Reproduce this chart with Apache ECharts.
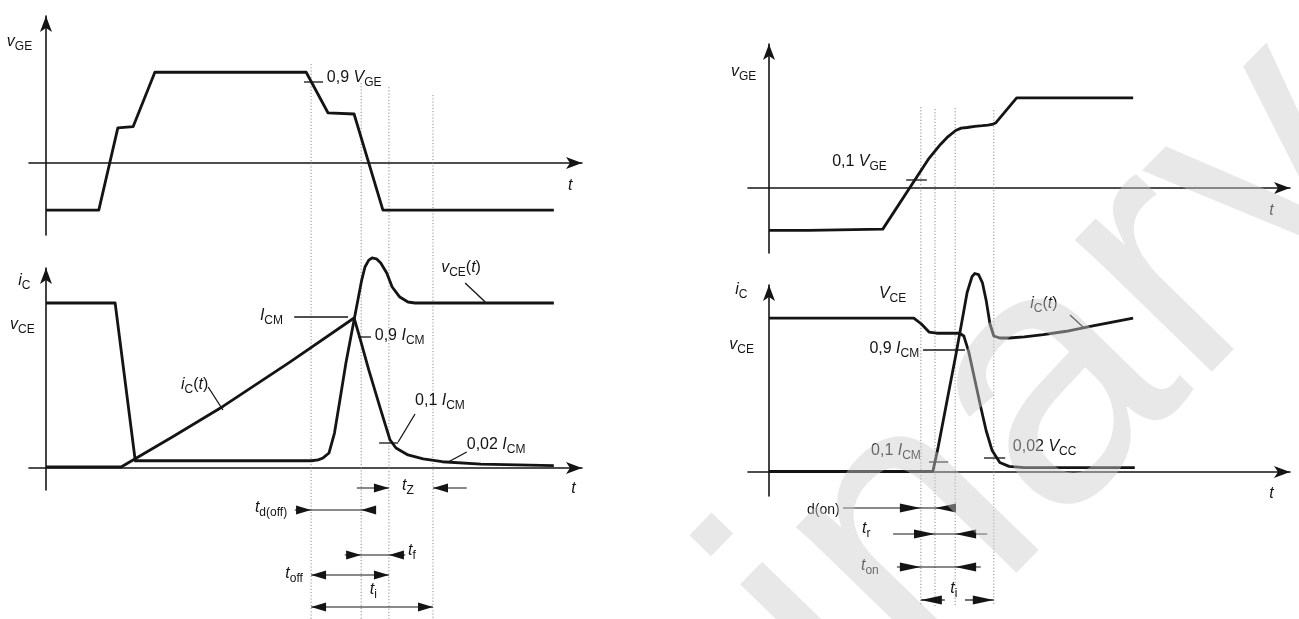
<!DOCTYPE html>
<html>
<head>
<meta charset="utf-8">
<title>IGBT switching times</title>
<style>
html, body { margin: 0; padding: 0; background: #fff; }
#container { width: 1299px; height: 619px; }
</style>
</head>
<body>
<div id="container"></div>
<script src="https://cdn.jsdelivr.net/npm/echarts@6/dist/echarts.min.js"></script>
<script>
// time is in arbitrary units, 0 = vertical axis of each diagram
// gate voltage in V, collector current / voltage in % of the vCE plateau

// turn-off (left)
var offGateT = [0, 9.7, 13.2, 16.0, 20.0, 47.8, 51.8, 56.6, 61.9, 93.3];
var offGateV = [-7.8, -7.8, 5.8, 6.0, 15.0, 15.0, 8.3, 8.1, -7.8, -7.8];

var offVceT = [0, 12.7, 16.4, 48.8, 50.0, 50.9, 52.0, 53.0, 54.0, 55.1, 56.6, 58.0, 58.6, 59.3, 59.9, 60.7, 61.5, 62.6, 63.6, 65.0, 66.5, 67.8, 93.3];
var offVce  = [100, 100, 4.4, 4.4, 4.9, 6.1, 9.1, 21.2, 41.2, 63.6, 89.7, 113.9, 121.8, 126.0, 127.3, 126.8, 124.2, 118.2, 109.7, 103.6, 100.6, 100, 100];

var offIcT = [0, 13.8, 23.2, 32.5, 44.8, 56.6, 57.6, 59.3, 61.5, 63.2, 64.3, 66.5, 69.3, 72.8, 79.9, 93.3];
var offIc  = [0.6, 0.6, 18.8, 37.3, 64.2, 90.9, 79.6, 59.4, 35.2, 17.0, 12.1, 7.9, 5.5, 3.8, 2.4, 1.4];

var offMarks = [48.7, 57.9, 63.0, 71.1];     // 0,9 VGE / 0,9 ICM / 0,1 ICM / 0,02 ICM
var offMarkTop = [64, 83, 87, 95];

// turn-on (right)
var onGateT = [0, 7.3, 7.4, 20.9, 29.4, 31.5, 32.9, 34.3, 35.3, 36.4, 37.8, 39.2, 40.2, 41.0, 41.7, 45.5, 66.9];
var onGateV = [-7.0, -7.0, -6.8, -6.8, 4.9, 7.2, 8.5, 9.5, 9.9, 10.0, 10.2, 10.3, 10.4, 10.5, 10.8, 14.9, 14.9];

var onVceT = [0, 26.6, 28.0, 29.4, 30.8, 35.0, 35.8, 36.7, 37.8, 38.9, 39.9, 41.0, 42.4, 44.1, 46.9, 67.2];
var onVce  = [93.3, 93.3, 89.7, 84.8, 84.1, 84.1, 82.4, 72.8, 56.1, 39.4, 25.0, 13.0, 5.8, 3.4, 2.7, 2.7];

var onIcT = [0, 30.1, 31.1, 32.9, 34.3, 35.35, 36.4, 37.3, 37.8, 38.5, 39.2, 39.9, 40.6, 41.3, 42.4, 44.1, 46.9, 50.4, 54.6, 59.5, 66.9];
var onIc  = [0.3, 0.3, 15.4, 46.5, 70.5, 89.6, 108.8, 118.4, 120.3, 119.6, 114.8, 104.0, 89.7, 82.4, 81.2, 81.2, 81.9, 83.2, 85.3, 88.5, 93.3];

var onMarks = [27.9, 30.5, 34.2, 41.3];      // 0,1 VGE / 0,1 ICM / 0,9 ICM / 0,02 VCC
var onMarkTop = [107, 109, 108, 110];

var INK = '#141414';
var FONT = '"Liberation Sans", Arial, sans-serif';
var PX_PER_T = 5.443;

function zip(a, b) { return a.map(function (v, i) { return [v, b[i]]; }); }

// panel layout: x of the vertical axis, left/right ends of the t axis,
// y of the zero line, top/bottom ends of the vertical axis, px per unit
function panel(originX, leftX, rightX, zeroY, topY, bottomY, pxPerUnit) {
  return {
    grid: { left: leftX, top: topY, width: rightX - leftX, height: bottomY - topY },
    xMin: (leftX - originX) / PX_PER_T, xMax: (rightX - originX) / PX_PER_T,
    yMin: (zeroY - bottomY) / pxPerUnit, yMax: (zeroY - topY) / pxPerUnit
  };
}
var panels = [
  panel(46, 29, 582, 163, 16, 235, 6.05),
  panel(46, 29, 582, 468, 268, 490, 1.65),
  panel(769, 748, 1290, 188, 44, 253, 6.05),
  panel(769, 748, 1290, 472, 285, 496, 1.65)
];
// annotation layers: same time scale, y in rows from the top
var overlays = [panel(46, 29, 582, 0, 0, 619, 1), panel(769, 748, 1290, 0, 0, 619, 1)];

var rich = {
  n: { fontFamily: FONT, fontSize: 16, fill: INK },
  i: { fontFamily: FONT, fontSize: 16, fontStyle: 'italic', fill: INK },
  s: { fontFamily: FONT, fontSize: 12, fill: INK, padding: [9, 0, 0, 0] },
  d: { fontFamily: FONT, fontSize: 14, fill: INK }
};

// [t, row, text, align]
var offLabels = [
  [-7.2, 42, '{i|v}{s|GE}', 'left'],
  [51.6, 78, '{n|0,9 }{i|V}{s|GE}', 'left'],
  [95.9, 186, '{i|t}', 'left'],
  [-5.1, 281, '{i|i}{s|C}', 'left'],
  [-6.6, 325, '{i|v}{s|CE}', 'left'],
  [39.3, 316, '{i|I}{s|CM}', 'left'],
  [60.4, 336, '{n|0,9 }{i|I}{s|CM}', 'left'],
  [24.8, 385, '{i|i}{s|C}{n|(}{i|t}{n|)}', 'left'],
  [67.8, 401, '{n|0,1 }{i|I}{s|CM}', 'left'],
  [77.3, 445, '{n|0,02 }{i|I}{s|CM}', 'left'],
  [72.6, 268, '{i|v}{s|CE}{n|(}{i|t}{n|)}', 'left'],
  [96.5, 489, '{i|t}', 'left'],
  [65.4, 486, '{i|t}{s|Z}', 'left'],
  [44.3, 508, '{i|t}{s|d(off)}', 'right'],
  [66.5, 551, '{i|t}{s|f}', 'left'],
  [47.2, 574, '{i|t}{s|off}', 'right'],
  [59.5, 590, '{i|t}{s|i}', 'left']
];
var onLabels = [
  [-7.0, 72, '{i|v}{s|GE}', 'left'],
  [11.6, 162, '{n|0,1 }{i|V}{s|GE}', 'left'],
  [91.9, 211, '{i|t}', 'left'],
  [-6.2, 290, '{i|i}{s|C}', 'left'],
  [-7.3, 345, '{i|v}{s|CE}', 'left'],
  [20.2, 294, '{i|V}{s|CE}', 'left'],
  [27.6, 349, '{n|0,9 }{i|I}{s|CM}', 'right'],
  [27.9, 451, '{n|0,1 }{i|I}{s|CM}', 'right'],
  [44.8, 447, '{n|0,02 }{i|V}{s|CC}', 'left'],
  [48.0, 304, '{i|i}{s|C}{n|(}{i|t}{n|)}', 'left'],
  [91.9, 494, '{i|t}', 'left'],
  [13.0, 510, '{d|d(on)}', 'right'],
  [17.1, 529, '{i|t}{s|r}', 'left'],
  [16.9, 566, '{i|t}{s|on}', 'left'],
  [33.3, 589, '{i|t}{s|i}', 'left']
];

// short ticks and leader lines: [t1, row1, t2, row2]
var offSegs = [
  [47.4, 82, 50.9, 82], [45.6, 317, 55.5, 317], [57.3, 337, 59.7, 337],
  [29.8, 387, 32.5, 410], [67.8, 414, 64.7, 442], [61.2, 443, 64.7, 443],
  [77.3, 452, 73.9, 462], [77.0, 283, 80.7, 302]
];
var onSegs = [
  [25.2, 180, 29.0, 180], [28.3, 350, 36.0, 350], [29.4, 462, 32.9, 462],
  [39.5, 458, 43.4, 458], [55.3, 315, 57.7, 327]
];

// time spans: row, shaft from/to, arrow tips [t, direction]
var offSpans = [
  [488, 57.1, 63.0, [[63.0, 1]]],
  [488, 71.1, 77.3, [[71.1, -1]]],
  [510, 45.7, 60.4, [[48.7, 1], [57.9, -1]]],
  [555, 54.9, 66.0, [[57.9, 1], [63.0, -1]]],
  [575, 48.7, 63.0, [[48.7, -1], [63.0, 1]]],
  [607, 48.7, 71.1, [[48.7, -1], [71.1, 1]]]
];
var onSpans = [
  [508, 13.6, 34.0, [[27.9, 1], [30.5, -1]]],
  [534, 22.8, 40.1, [[30.5, 1], [34.2, -1]]],
  [567, 23.5, 38.9, [[27.9, 1], [34.2, -1]]],
  [600, 27.9, 32.3, [[27.9, -1]]],
  [600, 36.0, 41.3, [[41.3, 1]]]
];

function axisStyle(show) {
  return {
    show: show,
    onZero: true,
    symbol: ['none', 'arrow'],
    symbolSize: [9, 16],
    lineStyle: { color: INK, width: 1.6 }
  };
}

var grids = [], xAxes = [], yAxes = [];
panels.forEach(function (p, i) {
  grids.push(p.grid);
  xAxes.push({ type: 'value', gridIndex: i, min: p.xMin, max: p.xMax, axisLine: axisStyle(true),
    axisTick: { show: false }, axisLabel: { show: false }, splitLine: { show: false } });
  yAxes.push({ type: 'value', gridIndex: i, min: p.yMin, max: p.yMax, axisLine: axisStyle(true),
    axisTick: { show: false }, axisLabel: { show: false }, splitLine: { show: false } });
});
overlays.forEach(function (p, i) {
  grids.push(p.grid);
  xAxes.push({ type: 'value', gridIndex: 4 + i, min: p.xMin, max: p.xMax, show: false });
  yAxes.push({ type: 'value', gridIndex: 4 + i, min: 0, max: 619, inverse: true, show: false });
});

function wave(name, idx, t, v) {
  return {
    name: name, type: 'line', xAxisIndex: idx, yAxisIndex: idx,
    data: zip(t, v), symbol: 'none', smooth: false, clip: false, z: 5,
    lineStyle: { color: INK, width: 2.8, join: 'round' }
  };
}

function guides(idx, marks, tops, bottom) {
  return {
    type: 'custom', xAxisIndex: idx, yAxisIndex: idx, z: 1,
    data: marks.map(function (m, i) { return [m, tops[i]]; }),
    renderItem: function (params, api) {
      var a = api.coord([api.value(0), api.value(1)]);
      var b = api.coord([api.value(0), bottom]);
      return { type: 'line', shape: { x1: a[0], y1: a[1], x2: b[0], y2: b[1] },
        style: { stroke: '#8a8a8a', lineWidth: 1, lineDash: [1.2, 2] } };
    }
  };
}

function segments(idx, segs) {
  return {
    type: 'custom', xAxisIndex: idx, yAxisIndex: idx, z: 4,
    data: segs.map(function (s) { return [s[0], s[1]]; }),
    renderItem: function (params, api) {
      var s = segs[params.dataIndex];
      var a = api.coord([s[0], s[1]]), b = api.coord([s[2], s[3]]);
      return { type: 'line', shape: { x1: a[0], y1: a[1], x2: b[0], y2: b[1] },
        style: { stroke: INK, lineWidth: 1.3 } };
    }
  };
}

function spans(idx, list, headLen, headHalf) {
  return {
    type: 'custom', xAxisIndex: idx, yAxisIndex: idx, z: 4,
    data: list.map(function (s) { return [s[1], s[0]]; }),
    renderItem: function (params, api) {
      var s = list[params.dataIndex];
      var a = api.coord([s[1], s[0]]), b = api.coord([s[2], s[0]]);
      var kids = [{ type: 'line', shape: { x1: a[0], y1: a[1], x2: b[0], y2: b[1] },
        style: { stroke: INK, lineWidth: 1.2 } }];
      s[3].forEach(function (h) {
        var p = api.coord([h[0], s[0]]);
        var d = h[1];
        kids.push({ type: 'polygon',
          shape: { points: [[p[0], p[1]], [p[0] - d * headLen, p[1] - headHalf], [p[0] - d * headLen, p[1] + headHalf]] },
          style: { fill: INK } });
      });
      return { type: 'group', children: kids };
    }
  };
}

function labels(idx, list) {
  return {
    type: 'custom', xAxisIndex: idx, yAxisIndex: idx, z: 6,
    data: list.map(function (l) { return [l[0], l[1]]; }),
    renderItem: function (params, api) {
      var l = list[params.dataIndex];
      var p = api.coord([l[0], l[1]]);
      return { type: 'text', x: p[0], y: p[1],
        style: { text: l[2], rich: rich, fontFamily: FONT, fontSize: 16, fill: INK,
          align: l[3], verticalAlign: 'middle' } };
    }
  };
}

var series = [
  wave('vGE off', 0, offGateT, offGateV),
  wave('vCE off', 1, offVceT, offVce),
  wave('iC off', 1, offIcT, offIc),
  wave('vGE on', 2, onGateT, onGateV),
  wave('vCE on', 3, onVceT, onVce),
  wave('iC on', 3, onIcT, onIc),
  guides(4, offMarks, offMarkTop, 619),
  guides(5, onMarks, onMarkTop, 606),
  segments(4, offSegs),
  segments(5, onSegs),
  spans(4, offSpans, 15, 4.5),
  spans(5, onSpans, 21, 4.5),
  labels(4, offLabels),
  labels(5, onLabels)
];

var chart = echarts.init(document.getElementById('container'), null, { renderer: 'canvas' });
chart.setOption({
  animation: false,
  backgroundColor: '#fff',
  grid: grids,
  xAxis: xAxes,
  yAxis: yAxes,
  series: series,
  graphic: [{
    type: 'text', x: 705, y: 751, rotation: 0.80, z: 100, silent: true,
    style: { text: 'Preliminary', fontFamily: FONT, fontSize: 360,
      fill: 'rgba(205,205,205,0.45)', align: 'center', verticalAlign: 'middle' }
  }]
});
</script>
</body>
</html>
